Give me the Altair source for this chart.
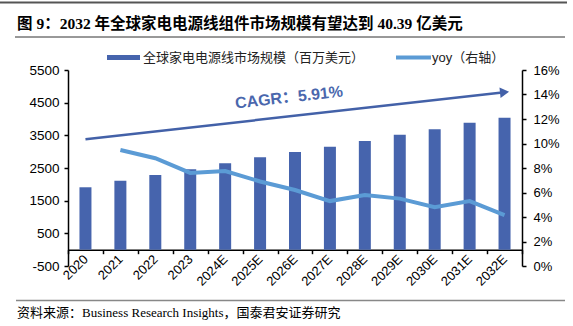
import altair as alt
import pandas as pd

# ---- data ----
years = ["2020", "2021", "2022", "2023", "2024E", "2025E", "2026E",
         "2027E", "2028E", "2029E", "2030E", "2031E", "2032E"]
market = [1910, 2112, 2287, 2461, 2645, 2828, 2990, 3153, 3327, 3520, 3685, 3888, 4039]
yoy = [None, 0.0947, 0.088, 0.076, 0.0775, 0.069, 0.062, 0.053, 0.058, 0.055, 0.048, 0.053, 0.0416]

trend_years = ["2020", "2032E"]
trend_vals = [3380, 4818]

left_ticks = [-500, 500, 1500, 2500, 3500, 4500, 5500]
right_ticks = [0, 0.02, 0.04, 0.06, 0.08, 0.10, 0.12, 0.14, 0.16]

title_text = "图 9：2032 年全球家电电源线组件市场规模有望达到 40.39 亿美元"
source_text = "资料来源：Business Research Insights，国泰君安证券研究"
legend_bar = "全球家电电源线市场规模（百万美元）"
legend_line = "yoy（右轴）"
cagr_text = "CAGR：5.91%"

BAR = "#4664AD"
LINE = "#5B9BD5"
ARROW = "#4361A8"
SANS = "Liberation Sans, Noto Sans CJK SC"
SERIF = "Liberation Serif, Noto Sans CJK SC"

df = pd.DataFrame({"year": years, "market": market, "yoy": yoy})
df_line = df.dropna()
df_trend = pd.DataFrame({"year": trend_years, "v": trend_vals})
one = pd.DataFrame({"a": [0]})

x_axis = alt.Axis(offset=-16.3, labelAngle=-45, labelAlign="right",
                  labelBaseline="middle", labelFontSize=13, labelFont=SANS,
                  labelColor="#000", domainColor="#000", domainWidth=1.5,
                  tickColor="#000", tickSize=4, tickWidth=1.5,
                  tickBand="extent", labelPadding=3, labelOverlap=False)
x_scale = alt.Scale(paddingInner=0, paddingOuter=0)

def xenc():
    return alt.X("year:N", sort=years, title=None, scale=x_scale, axis=x_axis)

yleft_scale = alt.Scale(domain=[-500, 5500], nice=False, zero=False)
yleft_axis = alt.Axis(orient="left", values=left_ticks, grid=False,
                      labelExpr="datum.value + ''", labelOverlap=False,
                      labelFontSize=13.5, labelFont=SANS, labelColor="#000",
                      domainColor="#000", domainWidth=1.5, tickColor="#000",
                      tickSize=4, tickWidth=1.5, labelPadding=5)

bars = alt.Chart(df).mark_bar(size=12, color=BAR).encode(
    x=xenc(),
    y=alt.Y("market:Q", title=None, scale=yleft_scale, axis=yleft_axis),
)

trend = alt.Chart(df_trend).mark_line(color=ARROW, strokeWidth=2.5).encode(
    x=xenc(),
    y=alt.Y("v:Q", title=None, scale=yleft_scale, axis=yleft_axis),
)
arrowhead = alt.Chart(df_trend.tail(1)).mark_point(
    shape="triangle-right", filled=True, size=110, angle=354, color=ARROW, opacity=1
).encode(
    x=xenc(),
    y=alt.Y("v:Q", title=None, scale=yleft_scale, axis=yleft_axis),
)

left_layer = alt.layer(bars, trend, arrowhead)

yoy_line = alt.Chart(df_line).mark_line(color=LINE, strokeWidth=4).encode(
    x=xenc(),
    y=alt.Y("yoy:Q", title=None,
            scale=alt.Scale(domain=[0, 0.16], nice=False),
            axis=alt.Axis(orient="right", values=right_ticks, format=".0%", grid=False,
                          labelOverlap=False,
                          labelFontSize=13, labelFont=SANS, labelColor="#000",
                          domainColor="#000", domainWidth=1.5, tickColor="#000",
                          tickSize=4, tickWidth=1.5, labelPadding=7)),
)

def rule(x1, x2, y, color, w):
    return alt.Chart(one).mark_rule(color=color, strokeWidth=w).encode(
        x=alt.value(x1), x2=alt.value(x2), y=alt.value(y))

def label(txt, x, y, size, font, color="#000", weight="normal", align="left",
          baseline="alphabetic", angle=0):
    return alt.Chart(one).mark_text(text=txt, fontSize=size, font=font, color=color,
                                    fontWeight=weight, align=align, baseline=baseline,
                                    angle=angle).encode(x=alt.value(x), y=alt.value(y))

annotations = [
    rule(-68, 499, -67.5, "#555", 2),
    label(title_text, -51, -41, 15.5, SERIF, weight="bold"),
    rule(-53, 497, -33, "#333", 1),
    rule(39, 72, -12.5, BAR, 5),
    label(legend_bar, 75, -12.5, 13, SANS, color="#222", baseline="middle"),
    rule(328, 363, -12.5, LINE, 4),
    label(legend_line, 364, -12.5, 13, SANS, color="#222", baseline="middle"),
    label(cagr_text, 221, 27.5, 16, SANS, color="#4A67AD", weight="bold",
          align="center", baseline="middle", angle=353.5),
    rule(-52, 497, 230.5, "#888", 1.5),
    label(source_text, -51, 247, 13, SERIF, color="#000"),
]

chart = alt.layer(left_layer, yoy_line, *annotations).resolve_scale(
    y="independent"
).properties(
    width=454, height=196,
    autosize=alt.AutoSizeParams(type="none"),
    padding={"left": 68, "top": 70, "right": 51, "bottom": 60},
    background="white",
).configure_view(stroke=None)

chart.save("out.html", embed_options={"renderer": "svg", "actions": False})
